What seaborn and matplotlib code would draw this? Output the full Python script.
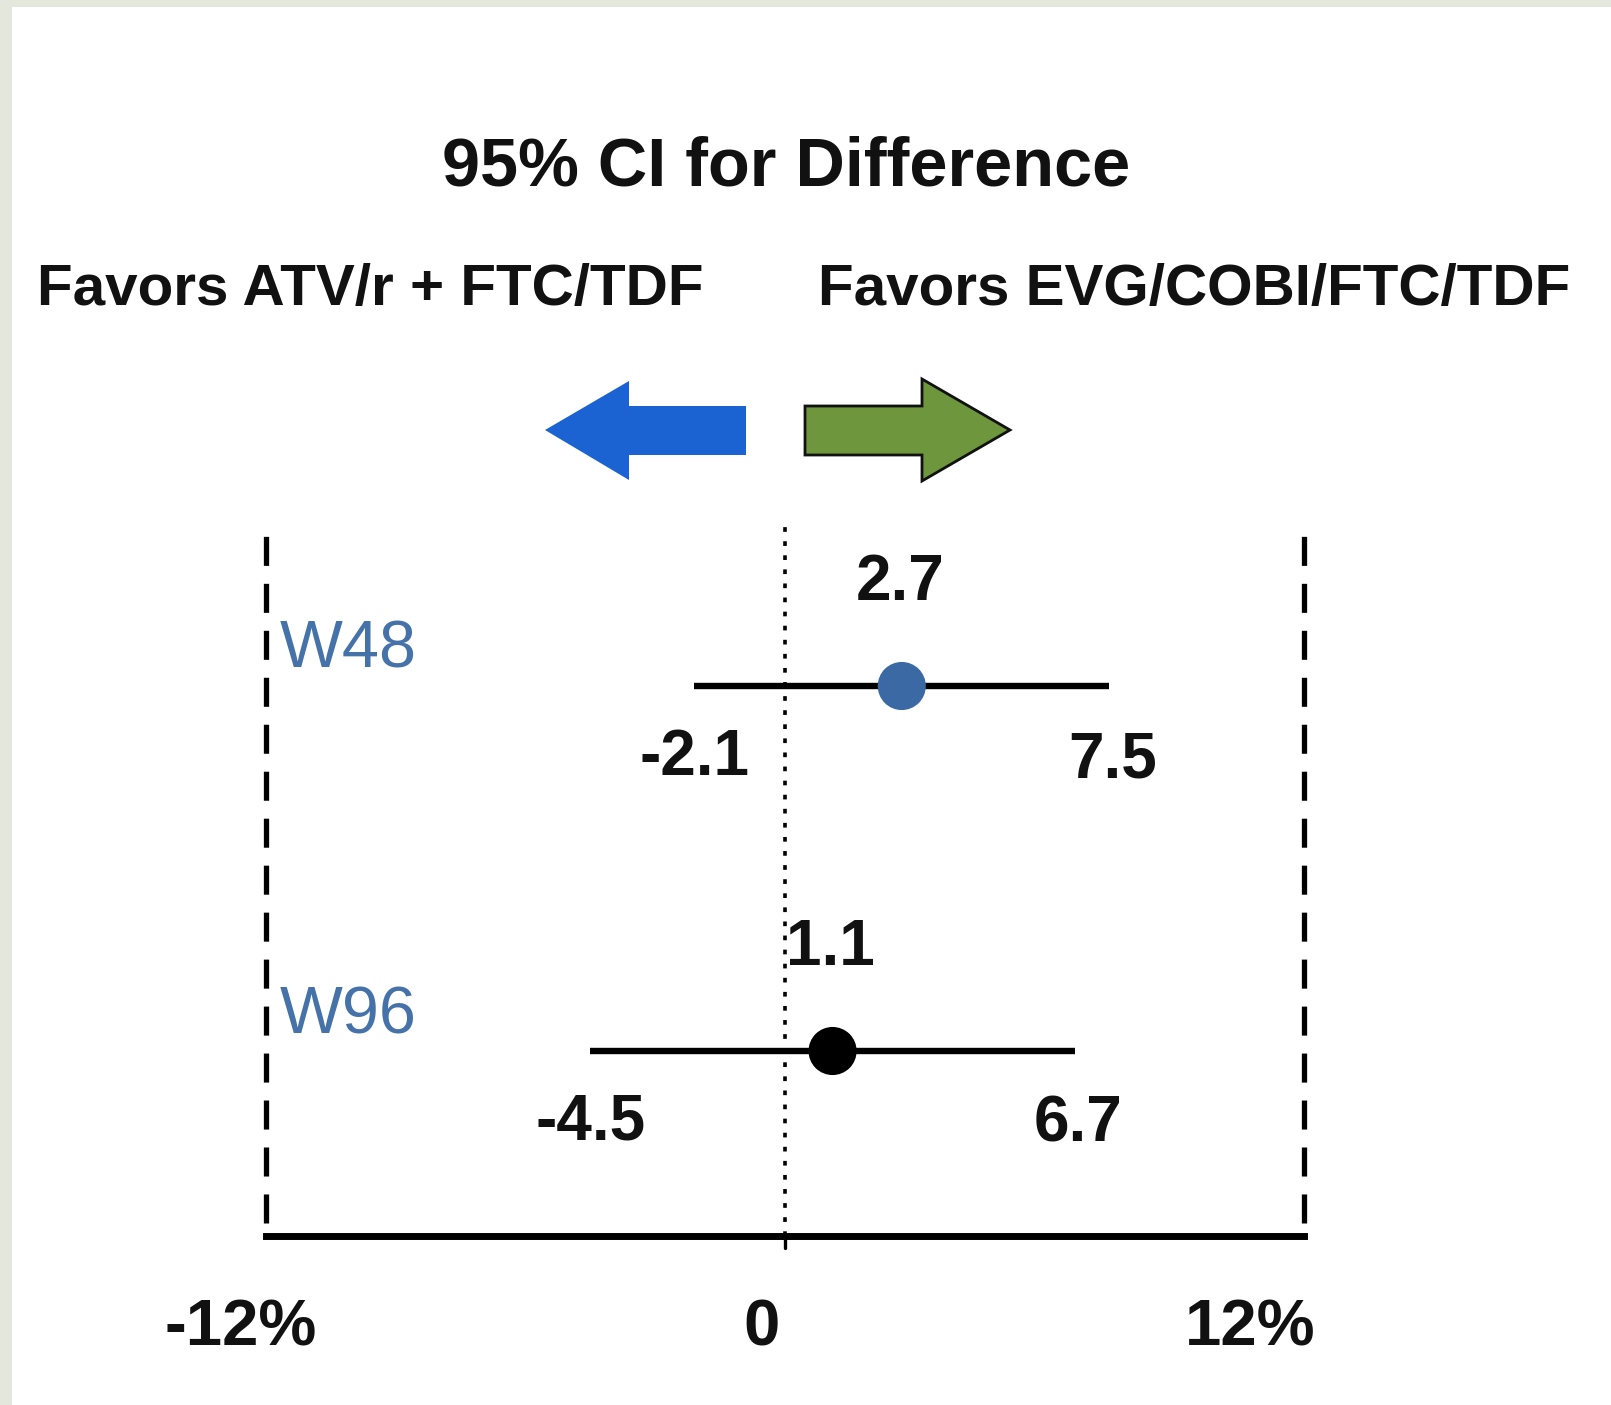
import numpy as np
import pandas as pd
import matplotlib
matplotlib.use("Agg")
import matplotlib.pyplot as plt
from matplotlib.patches import Polygon, Rectangle
from matplotlib.transforms import ScaledTranslation
import seaborn as sns

# Treatment difference (%) with 95% confidence bounds
weeks = ["W48", "W96"]
diff = [2.7, 1.1]
lower = [-2.1, -4.5]
upper = [7.5, 6.7]
point_colors = ["#3a69a3", "#000000"]

# Margin bounds and axis labels
margin = [-12, 12]
axis_ticks = [-12, 0, 12]
tick_labels = ["-12%", "0", "12%"]

title = "95% CI for Difference"
favors_left = "Favors ATV/r + FTC/TDF"
favors_right = "Favors EVG/COBI/FTC/TDF"

sns.set_theme(style="white")
plt.rcParams["font.family"] = ["Liberation Sans", "DejaVu Sans"]

W, H = 1611, 1405
fig = plt.figure(figsize=(W / 100, H / 100), dpi=100)
fig.patch.set_facecolor("white")

# Decorative overlay in pixel units (frame strip and direction arrows)
deco = fig.add_axes([0, 0, 1, 1], zorder=0)
deco.set_xlim(0, W)
deco.set_ylim(H, 0)
deco.axis("off")
frame_col = "#e4e8dc"
deco.add_patch(Rectangle((0, 0), W, 7, color=frame_col, lw=0))
deco.add_patch(Rectangle((0, 0), 12, H, color=frame_col, lw=0))

left_arrow = [(545, 430), (629, 381), (629, 406), (746, 406),
              (746, 455), (629, 455), (629, 480)]
right_arrow = [(805, 406), (922, 406), (922, 379), (1010, 430),
               (922, 481), (922, 455), (805, 455)]
deco.add_patch(Polygon(left_arrow, closed=True, facecolor="#1b63d2",
                       edgecolor="none"))
deco.add_patch(Polygon(right_arrow, closed=True, facecolor="#6e963c",
                       edgecolor="#111111", lw=2))

# Header texts
fig.text(786 / W, 1 - 167 / H, title, ha="center", va="center",
         fontsize=49.3, fontweight="bold", color="#111111")
fig.text(370 / W, 1 - 290 / H, favors_left, ha="center", va="center",
         fontsize=42, fontweight="bold", color="#111111")
fig.text(1194 / W, 1 - 290 / H, favors_right, ha="center", va="center",
         fontsize=42, fontweight="bold", color="#111111")

# Forest plot axes
px_per_unit = 43.25
zero_px = 785
top_px, axis_px = 480, 1236
row_px = [686, 1051]
row_step = row_px[1] - row_px[0]
ax = fig.add_axes([0, (H - axis_px) / H, 1, (axis_px - top_px) / H], zorder=1)
ax.patch.set_alpha(0)
ax.set_xlim(-zero_px / px_per_unit, (W - zero_px) / px_per_unit)
ax.set_ylim(1 + (axis_px - row_px[1]) / row_step,
            -(row_px[0] - top_px) / row_step)

df = pd.DataFrame({"week": weeks, "row": np.arange(len(weeks)),
                   "diff": diff, "lower": lower, "upper": upper})

# Confidence intervals and point estimates
ax.hlines(df["row"], df["lower"], df["upper"], color="black", lw=4.6,
          zorder=2)
sns.scatterplot(data=df, x="diff", y="row", hue="week",
                palette=point_colors, s=1200, edgecolor="none",
                legend=False, zorder=3, ax=ax)

# Margin lines and zero reference
for m in margin:
    ax.axvline(m, ymin=0.017, ymax=0.948, color="black", lw=3.8,
               dashes=(5.5, 3.4))
ax.axvline(0, ymin=0, ymax=0.939, color="black", lw=2.6,
           dashes=(1.3, 2.6), zorder=1)
ax.axvline(0, ymin=-0.016, ymax=0, color="black", lw=2.4, clip_on=False)

# Value labels
for _, r in df.iterrows():
    ax.annotate(f"{r['diff']:.1f}", (r["diff"], r["row"]),
                xytext=(-2, 103), textcoords="offset pixels",
                ha="center", va="center", fontsize=46, fontweight="bold",
                color="#111111")
    ax.annotate(f"{r['lower']:.1f}", (r["lower"], r["row"]),
                xytext=(0, -72), textcoords="offset pixels",
                ha="center", va="center", fontsize=46, fontweight="bold",
                color="#111111")
    ax.annotate(f"{r['upper']:.1f}", (r["upper"], r["row"]),
                xytext=(3, -74), textcoords="offset pixels",
                ha="center", va="center", fontsize=46, fontweight="bold",
                color="#111111")
    ax.annotate(r["week"], (margin[0], r["row"]),
                xytext=(14, 35), textcoords="offset pixels",
                ha="left", va="center", fontsize=48, color="#4572a8")

# Bottom axis line spanning the margins
for side in ["top", "left", "right"]:
    ax.spines[side].set_visible(False)
ax.spines["bottom"].set_bounds(margin[0], margin[1])
ax.spines["bottom"].set_linewidth(5)
ax.spines["bottom"].set_color("black")
ax.set_yticks([])
ax.set_xticks(axis_ticks)
ax.set_xticklabels(tick_labels, fontsize=47, fontweight="bold",
                   color="#111111")
ax.tick_params(axis="x", length=0, pad=45)
label_shift = [-25, -24, -54]
for lab, dx in zip(ax.get_xticklabels(), label_shift):
    lab.set_transform(lab.get_transform() +
                      ScaledTranslation(dx / 100, 0, fig.dpi_scale_trans))
ax.set_xlabel("")
ax.set_ylabel("")

fig.savefig("out.png", dpi=100, facecolor="white")
